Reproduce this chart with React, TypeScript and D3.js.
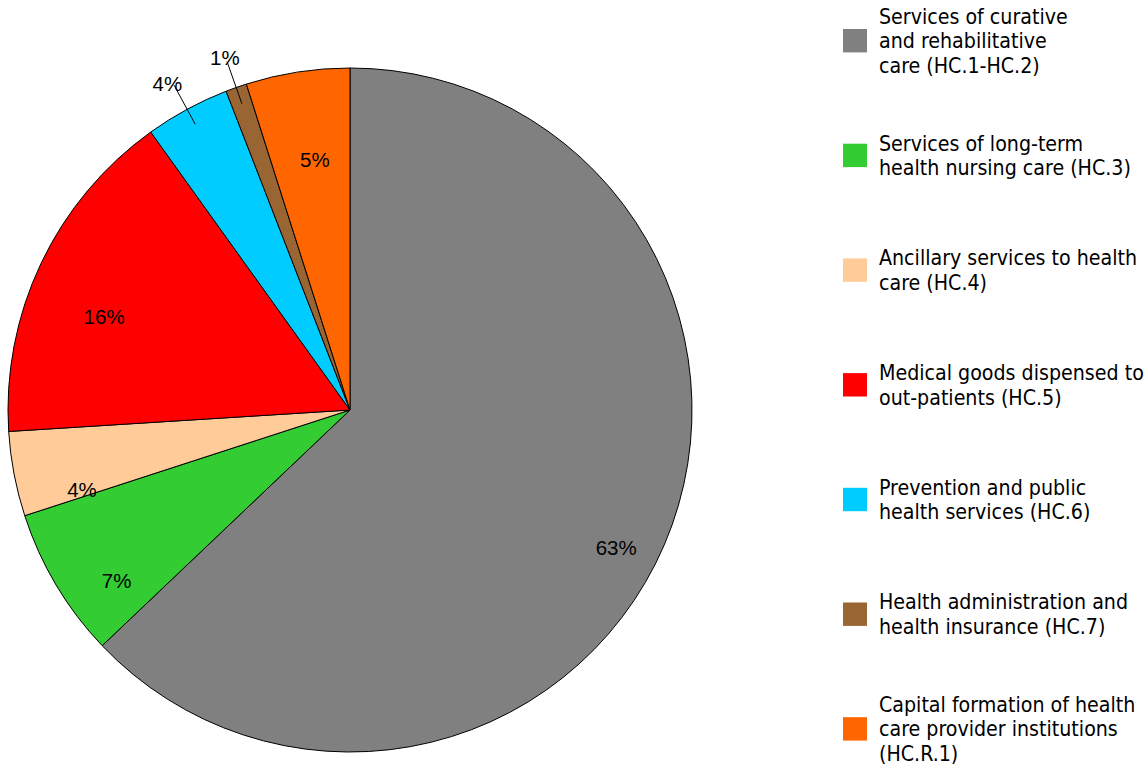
import React from "react";
import * as d3 from "d3";

const categories: string[][] = [
  ["Services of curative", "and rehabilitative", "care (HC.1-HC.2)"],
  ["Services of long-term", "health nursing care (HC.3)"],
  ["Ancillary services to health", "care (HC.4)"],
  ["Medical goods dispensed to", "out-patients (HC.5)"],
  ["Prevention and public", "health services (HC.6)"],
  ["Health administration and", "health insurance (HC.7)"],
  ["Capital formation of health", "care provider institutions", "(HC.R.1)"],
];
const values: number[] = [62.9, 7.1, 4.0, 16.1, 4.0, 1.0, 4.9];
const pctLabels: string[] = ["63%", "7%", "4%", "16%", "4%", "1%", "5%"];
const colors: string[] = ["#808080", "#33CC33", "#FFCC99", "#FF0000", "#00CCFF", "#996633", "#FF6600"];

const W = 1148;
const H = 767;
const CX = 350;
const CY = 410;
const R = 342;
const OUTSIDE = new Set([4, 5]);
const LABEL_OFF_X = 8;
const LABEL_OFF_Y = 27;

export default function App() {
  const pie = d3.pie<number>().sort(null).value((d) => d).startAngle(0).endAngle(2 * Math.PI);
  const arcs = pie(values);
  const arc = d3.arc<d3.PieArcDatum<number>>().innerRadius(0).outerRadius(R);
  const pt = (a: number, r: number, ox = 0, oy = 0) => [CX + ox + r * Math.sin(a), CY + oy - r * Math.cos(a)];

  const legendX = 843;
  const legendTextX = 879;
  const legendStart = 40.7;
  const legendStep = 114.7;
  const lineH = 24.5;

  return (
    <svg width={W} height={H} style={{ position: "absolute", left: 0, top: 0, background: "#fff" }}>
      <g>
        {arcs.map((a, i) => (
          <path key={i} d={arc(a) as string} transform={`translate(${CX},${CY})`} fill={colors[i]} stroke="#000" strokeWidth={1} />
        ))}
      </g>
      <g fontFamily="'Liberation Sans', Arial, sans-serif" fontSize={20.5} fill="#000">
        {arcs.map((a, i) => {
          const mid = (a.startAngle + a.endAngle) / 2;
          if (OUTSIDE.has(i)) {
            const [tx, ty] = pt(mid, R * 1.17, LABEL_OFF_X, LABEL_OFF_Y - 2);
            const [x1, y1] = pt(mid, R * 1.08);
            const [x2, y2] = pt(mid, R * 0.95);
            return (
              <g key={i}>
                <line x1={x1} y1={y1} x2={x2} y2={y2} stroke="#000" strokeWidth={1} />
                <text x={tx} y={ty} textAnchor="middle" dominantBaseline="central">{pctLabels[i]}</text>
              </g>
            );
          }
          const [tx, ty] = pt(mid, 281, LABEL_OFF_X, LABEL_OFF_Y);
          return (
            <text key={i} x={tx} y={ty} textAnchor="middle" dominantBaseline="central">{pctLabels[i]}</text>
          );
        })}
      </g>
      <g fontFamily="'DejaVu Sans Condensed', 'DejaVu Sans', sans-serif" fontSize={21.2} fill="#000">
        {categories.map((lines, i) => {
          const cy = legendStart + i * legendStep;
          const top = cy - ((lines.length - 1) * lineH) / 2;
          return (
            <g key={i}>
              <rect x={legendX} y={cy - 11.7} width={24} height={23.4} fill={colors[i]} />
              {lines.map((l, j) => (
                <text key={j} x={legendTextX} y={top + j * lineH} dominantBaseline="central">{l}</text>
              ))}
            </g>
          );
        })}
      </g>
    </svg>
  );
}
